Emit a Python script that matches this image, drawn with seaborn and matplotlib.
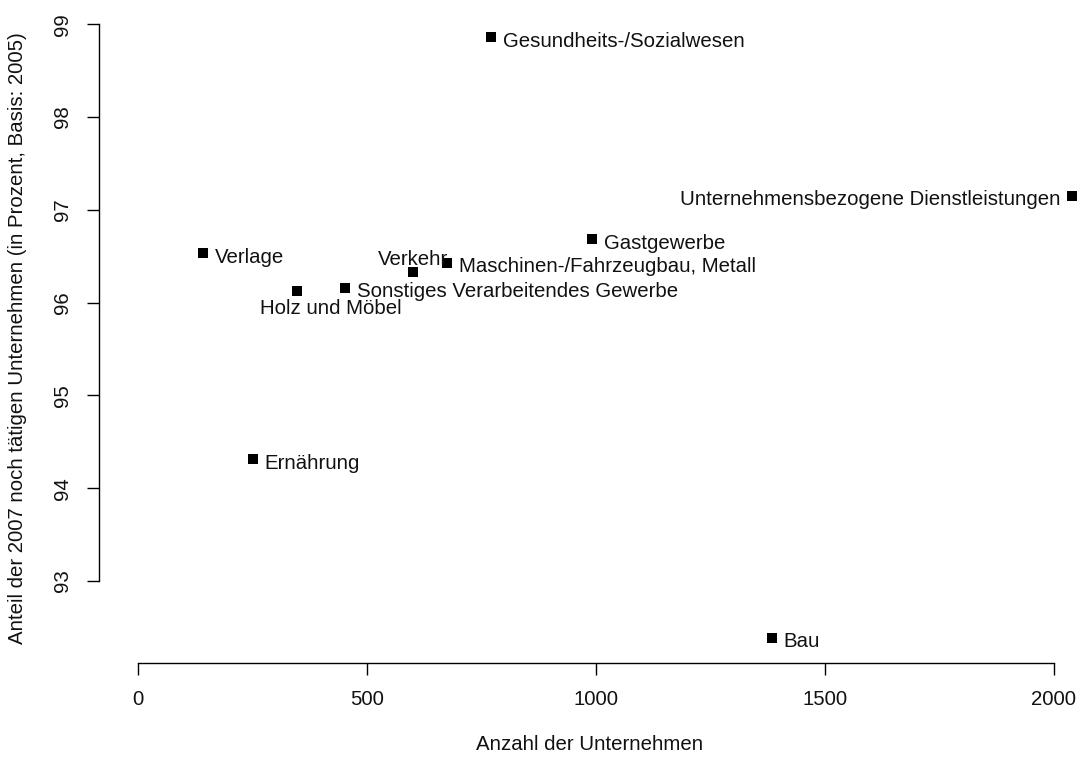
import matplotlib
matplotlib.use("Agg")
import matplotlib.pyplot as plt
import seaborn as sns
import pandas as pd

# Daten
branchen = ["Gesundheits-/Sozialwesen", "Unternehmensbezogene Dienstleistungen",
            "Gastgewerbe", "Maschinen-/Fahrzeugbau, Metall", "Verkehr",
            "Sonstiges Verarbeitendes Gewerbe", "Holz und Möbel", "Verlage",
            "Ernährung", "Bau"]
anzahl = [771, 2040, 991, 675, 600, 452, 347, 142, 251, 1384]
anteil = [98.86, 97.15, 96.68, 96.43, 96.33, 96.16, 96.12, 96.53, 94.31, 92.39]

x_ticks = [0, 500, 1000, 1500, 2000]
y_ticks = [93, 94, 95, 96, 97, 98, 99]

df = pd.DataFrame({"branche": branchen, "anzahl": anzahl, "anteil": anteil})

sns.set_theme(style="ticks")
plt.rcParams['font.family'] = ['Liberation Sans', 'DejaVu Sans']
fs = 14.7

fig = plt.figure(figsize=(10.81, 7.58), dpi=100)
ax = fig.add_axes([99 / 1081, 1 - 663 / 758, 981 / 1081, 650 / 758])

sns.scatterplot(data=df, x="anzahl", y="anteil", marker="s", s=42,
                color="black", linewidth=0, ax=ax)

# Beschriftung: Versatz in Punkten (x, y), Ausrichtung
off = 8.6
lage = {
    "Unternehmensbezogene Dienstleistungen": ((-off, -6.5), "right"),
    "Verkehr": ((0, 5), "center"),
    "Holz und Möbel": ((24.5, -16.6), "center"),
}
for _, r in df.iterrows():
    (dx, dy), ha = lage.get(r["branche"], ((off, -7.0), "left"))
    ax.annotate(r["branche"], (r["anzahl"], r["anteil"]), xytext=(dx, dy),
                textcoords="offset points", ha=ha, va="baseline", fontsize=fs,
                color="#111111")

ax.set_xlim(-85, 2057)
ax.set_ylim(92.116, 99.12)
ax.set_xticks(x_ticks)
ax.set_yticks(y_ticks)
ax.set_yticklabels([str(t) for t in y_ticks], rotation=90, va="center")
ax.tick_params(axis="both", length=8.6, width=1, color="black",
               labelsize=fs, labelcolor="#111111")
ax.tick_params(axis="x", pad=10.5)
ax.tick_params(axis="y", pad=11)

sns.despine(ax=ax)
ax.spines["bottom"].set_bounds(0, 2000)
ax.spines["left"].set_bounds(93, 99)
for s in ["bottom", "left"]:
    ax.spines[s].set_color("black")
    ax.spines[s].set_linewidth(1)

ax.set_xlabel("Anzahl der Unternehmen", fontsize=fs, color="#111111")
ax.set_ylabel("Anteil der 2007 noch tätigen Unternehmen (in Prozent, Basis: 2005)",
              fontsize=fs, color="#111111")
ax.xaxis.label.set_verticalalignment("center")
ax.yaxis.label.set_verticalalignment("center")
ax.xaxis.set_label_coords(0.5, -(745 - 663) / 650)
ax.yaxis.set_label_coords(-(99 - 18) / 981, 0.5)

fig.savefig("out.png", dpi=100)
